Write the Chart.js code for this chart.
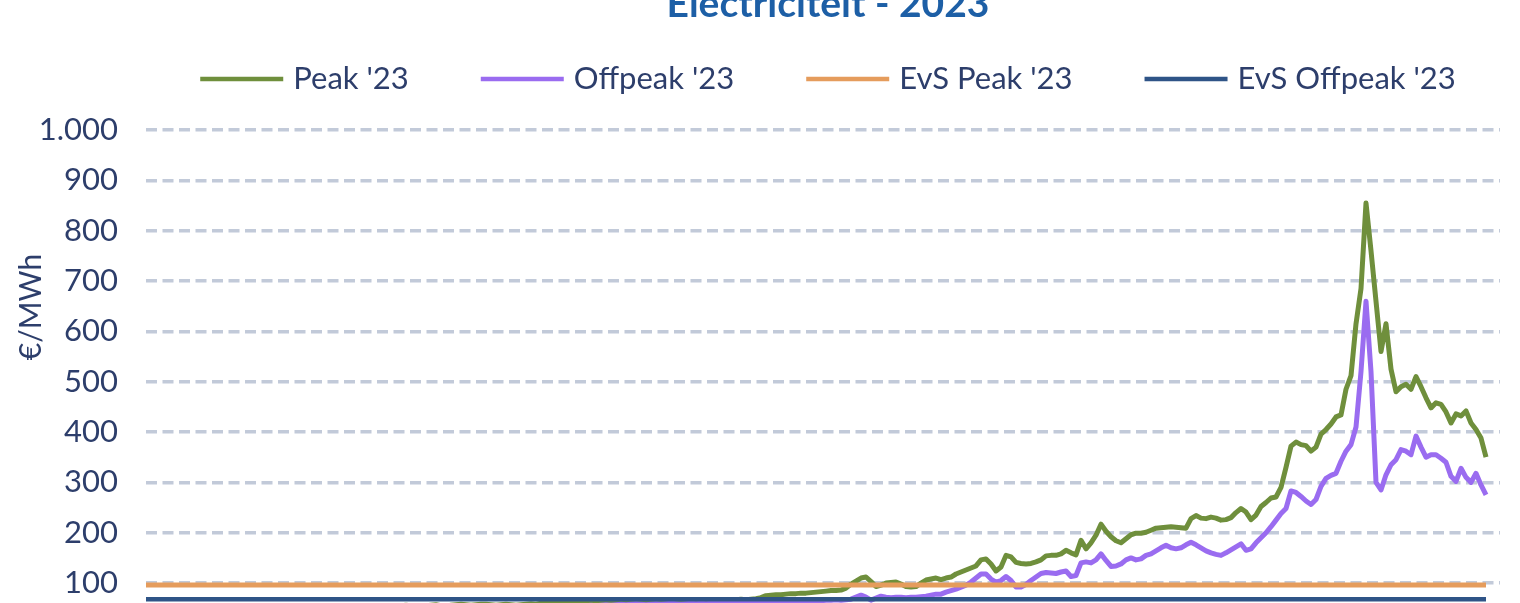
<!DOCTYPE html>
<html>
<head>
<meta charset="utf-8">
<script src="https://cdn.jsdelivr.net/npm/chart.js@4/dist/chart.umd.min.js"></script>
<style>
  html, body { margin: 0; padding: 0; background: #ffffff; overflow: hidden; }
  #wrap { position: absolute; left: 0; top: 0; width: 1520px; height: 680px; }
</style>
</head>
<body>
<div id="wrap"><canvas id="c" width="1520" height="680" style="width:1520px;height:680px"></canvas></div>
<script>
// ---- data ----
const chartTitle = "Electriciteit - 2023";
const yAxisTitle = "€/MWh";
const seriesNames = ["Peak '23", "Offpeak '23", "EvS Peak '23", "EvS Offpeak '23"];

// Peak '23 price path (€/MWh)
const peak = [
  48,47,49,46,45,44,46,47,45,43,
  42,44,45,46,44,43,45,47,48,46,
  45,47,49,50,48,47,49,51,50,49,
  48,50,52,51,50,49,51,53,52,51,
  50,52,54,53,52,51,53,55,54,52,
  53,55,56,55,54,53,55,56,57,55,
  54,56,57,58,57,56,57,58,58,57,
  56,57,58,57,56,57,58,59,58,60,
  61,60,61,62,61,62,63,62,61,62,
  63,62,61,62,63,64,63,62,63,64,
  63,62,63,64,63,64,65,64,63,64,
  65,64,65,66,65,66,67,66,67,68,
  67,68,69,71,75,76,77,77,78,79,
  79,80,80,81,82,83,84,85,85,86,
  90,98,104,110,112,103,93,96,100,101,
  102,98,93,92,93,100,106,108,110,107,
  110,112,118,122,126,130,134,146,148,138,
  124,132,155,152,141,139,138,139,142,146,
  154,155,155,158,165,160,156,185,168,180,
  195,217,203,192,184,180,188,196,199,199,
  201,205,209,210,211,212,211,210,209,228,
  234,229,228,231,229,225,226,230,240,248,
  241,226,235,252,260,269,271,290,330,372,
  380,375,373,362,370,396,405,416,430,434,
  485,512,615,685,855,760,660,560,615,525,
  480,490,495,485,510,490,468,448,458,455,
  440,418,436,432,442,418,405,388,350
];

// Offpeak '23 price path (€/MWh)
const offpeak = [
  38,37,39,36,35,34,36,37,35,33,
  32,34,35,36,34,33,35,37,38,36,
  35,37,39,40,38,37,39,41,40,39,
  38,40,42,41,40,39,41,43,42,41,
  40,42,44,43,42,41,43,45,44,42,
  43,45,46,45,44,43,45,46,47,45,
  44,46,47,48,47,46,47,48,49,48,
  47,48,49,50,49,50,51,52,51,52,
  53,52,53,54,53,54,55,54,55,56,
  55,56,57,56,57,58,57,58,59,58,
  57,58,59,58,59,60,59,58,59,60,
  59,60,59,60,61,60,61,60,61,62,
  61,62,62,63,63,63,64,63,64,64,
  65,64,65,65,66,65,66,66,67,66,
  67,68,72,76,72,66,70,74,72,71,
  72,72,71,72,72,73,74,76,78,78,
  82,85,88,92,96,102,110,118,118,108,
  102,105,113,105,92,92,97,105,112,119,
  121,120,119,122,124,113,115,140,142,140,
  146,158,145,133,134,138,146,150,146,148,
  155,158,164,170,175,170,168,170,176,181,
  176,170,164,160,157,155,160,166,172,178,
  165,168,180,190,200,212,225,238,248,283,
  280,272,263,256,266,292,308,314,318,342,
  362,375,410,520,660,520,300,285,315,335,
  345,365,362,355,392,370,350,355,355,348,
  340,312,302,328,310,300,318,295,275
];

// EvS reference levels (€/MWh)
const evsPeak = 96;
const evsOffpeak = 68;

// ---- styling ----
const colors = ["#6f8f3c", "#9a6cf0", "#e59c5c", "#2f5487"];
const widths = [5, 5, 5, 4.5];
const textColor = "#2d3e6b";
const FONT = "Lato, 'Open Sans', sans-serif";

const toPts = arr => arr.map((v, i) => ({ x: i, y: v }));
const lastX = peak.length - 1;

const datasets = [
  { label: seriesNames[0], data: toPts(peak), order: 2 },
  { label: seriesNames[1], data: toPts(offpeak), order: 1 },
  { label: seriesNames[2], data: [{ x: 0, y: evsPeak }, { x: lastX, y: evsPeak }], order: 0 },
  { label: seriesNames[3], data: [{ x: 0, y: evsOffpeak }, { x: lastX, y: evsOffpeak }], order: 0 }
].map((d, i) => Object.assign(d, {
  borderColor: colors[i], backgroundColor: colors[i], borderWidth: widths[i],
  pointRadius: 0, tension: 0, borderJoinStyle: 'round', fill: false
}));

const decorPlugin = {
  id: 'decor',
  afterDraw(chart) {
    const ctx = chart.ctx;
    const ca = chart.chartArea;
    const cx = (ca.left + ca.right) / 2 + 5;
    ctx.save();
    // title
    ctx.fillStyle = "#1d5fa6";
    ctx.font = "bold 39px " + FONT;
    ctx.textAlign = "center";
    ctx.textBaseline = "alphabetic";
    ctx.fillText(chartTitle, cx, 17);

    // legend
    ctx.font = "31px " + FONT;
    const lineLen = 83, gapText = 10, gapItem = 72;
    const items = chart.data.datasets.map(d => ({ d, w: ctx.measureText(d.label).width }));
    let total = 0;
    items.forEach((it, i) => { total += lineLen + gapText + it.w + (i ? gapItem : 0); });
    let x = cx - total / 2;
    const ly = 79;
    items.forEach((it) => {
      ctx.strokeStyle = it.d.borderColor;
      ctx.lineWidth = 4.5;
      ctx.beginPath(); ctx.moveTo(x, ly); ctx.lineTo(x + lineLen, ly); ctx.stroke();
      ctx.fillStyle = textColor;
      ctx.textAlign = "left";
      ctx.textBaseline = "middle";
      ctx.fillText(it.d.label, x + lineLen + gapText, ly);
      x += lineLen + gapText + it.w + gapItem;
    });

    // y axis title
    ctx.translate(31, 307);
    ctx.rotate(-Math.PI / 2);
    ctx.font = "30px " + FONT;
    ctx.fillStyle = textColor;
    ctx.textAlign = "center";
    ctx.textBaseline = "middle";
    ctx.fillText(yAxisTitle, 0, 0);
    ctx.restore();
  }
};

new Chart(document.getElementById('c'), {
  type: 'line',
  data: { datasets },
  options: {
    responsive: false,
    maintainAspectRatio: false,
    animation: false,
    events: [],
    layout: { padding: { top: 130, bottom: 7, left: 0, right: 20 } },
    plugins: { legend: { display: false }, title: { display: false }, tooltip: { enabled: false } },
    scales: {
      x: { type: 'linear', min: 0, max: 270.8, display: false },
      y: {
        type: 'linear', min: 0, max: 1000,
        afterFit(s) { s.width = 146; },
        border: { display: false, dash: [11, 5.5] },
        grid: { color: "#c2cad9", lineWidth: 3.5, drawTicks: false },
        ticks: {
          stepSize: 100, padding: 28, color: textColor,
          font: { family: FONT, size: 31 },
          callback: v => v.toLocaleString('nl-NL')
        }
      }
    }
  },
  plugins: [decorPlugin]
});
</script>
</body>
</html>
